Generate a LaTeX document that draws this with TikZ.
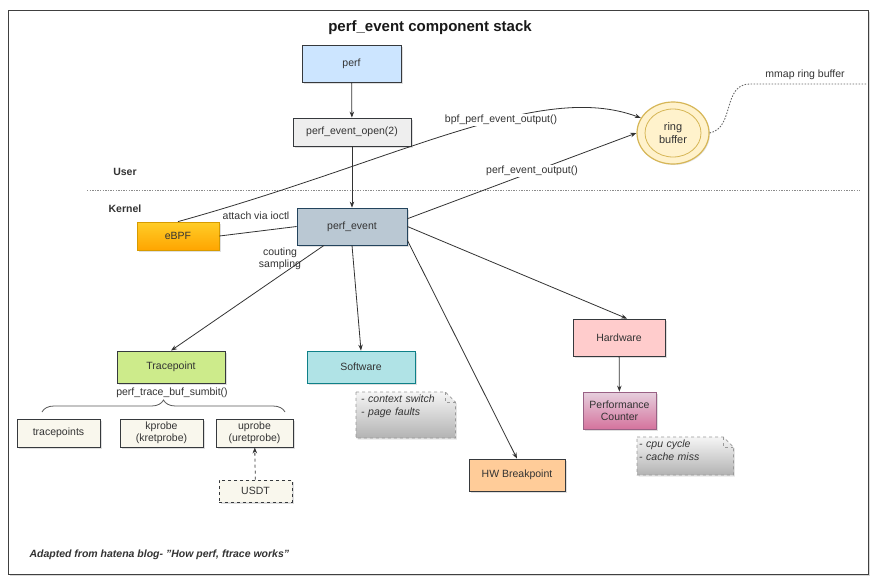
\documentclass[tikz,border=0pt]{standalone}
\usepackage{fontspec}
\setmainfont{Liberation Sans}
\usetikzlibrary{arrows.meta,shadows,decorations.pathreplacing,shapes.geometric,calc}
\pgfdeclarelayer{framelayer}
\pgfdeclarelayer{notelayer}
\pgfsetlayers{framelayer,notelayer,main}
\definecolor{txt}{HTML}{333333}
\definecolor{linec}{HTML}{333333}
\definecolor{boxstroke}{HTML}{36393D}
\definecolor{perfblue}{HTML}{CCE5FF}
\definecolor{peogray}{HTML}{EEEEEE}
\definecolor{pefill}{HTML}{BAC8D3}
\definecolor{pestroke}{HTML}{23445D}
\definecolor{ebpftop}{HTML}{FFCD28}
\definecolor{ebpfbot}{HTML}{FFA500}
\definecolor{ebpfstroke}{HTML}{D79B00}
\definecolor{tpfill}{HTML}{CDEB8B}
\definecolor{swfill}{HTML}{B0E3E6}
\definecolor{swstroke}{HTML}{0E8088}
\definecolor{hwfill}{HTML}{FFCCCC}
\definecolor{hwbfill}{HTML}{FFCC99}
\definecolor{pctop}{HTML}{E6D0DE}
\definecolor{pcbot}{HTML}{D5739D}
\definecolor{pcstroke}{HTML}{996185}
\definecolor{smallfill}{HTML}{F9F7ED}
\definecolor{ringfill}{HTML}{FFF2CC}
\definecolor{ringstroke}{HTML}{D6B656}
\definecolor{notetop}{HTML}{F5F5F5}
\definecolor{notebot}{HTML}{B3B3B3}
\definecolor{notestroke}{HTML}{999999}
\begin{document}
\begin{tikzpicture}[x=1pt,y=-1pt,
  every node/.style={font=\fontsize{10.5}{12.5}\selectfont, text=txt},
  box/.style={rectangle, draw=#1, line width=0.8pt, inner sep=0pt, align=center,
    drop shadow={opacity=0.25, shadow xshift=1.5pt, shadow yshift=-1.5pt}},
  box/.default=boxstroke,
  arr/.style={draw=linec, line width=0.8pt, -{Stealth[length=6pt,width=4.5pt]}},
  conn/.style={draw=linec, line width=0.8pt},
  lbl/.style={inner sep=1pt},
  bold/.style={font=\bfseries\fontsize{10.5}{12.5}\selectfont},
  notetext/.style={anchor=north west, align=left, inner ysep=3pt,
    font=\itshape\fontsize{10.5}{12.5}\selectfont},
  noteshape/.style={draw=notestroke, dashed, line width=0.7pt, top color=notetop, bottom color=notebot,
    drop shadow={opacity=0.2, shadow xshift=1.5pt, shadow yshift=-1.5pt}},
  ]
\useasboundingbox (0,0) rectangle (882,581);

% frame
\begin{pgfonlayer}{framelayer}
\draw[fill=white, draw=black!75, line width=1pt,
  drop shadow={opacity=0.3, shadow xshift=2pt, shadow yshift=-2pt}] (8,10) rectangle (868,574);
\end{pgfonlayer}

% title
\node[font=\bfseries\fontsize{15}{18}\selectfont, text=black!90] (title) at (430,28) {perf\_event component stack};

% user/kernel
\node[bold] (user) at (125,172) {User};
\node[bold] (kernel) at (125,209) {Kernel};
\coordinate (sepL) at (87,190);
\coordinate (sepR) at (860,190);
\draw[draw=black!45, line width=1pt, dash pattern=on 1.3pt off 1.3pt] (sepL) -- (sepR);

% nodes
\node[box, fill=perfblue, minimum width=99, minimum height=37] (perf) at (351.5,63.5) {perf};
\node[box, fill=peogray, minimum width=118, minimum height=28] (peo) at (352,132) {perf\_event\_open(2)};
\node[box=pestroke, fill=pefill, minimum width=110, minimum height=37] (pe) at (352,226.5) {perf\_event};
\node[box=ebpfstroke, top color=ebpftop, bottom color=ebpfbot, minimum width=82, minimum height=28] (ebpf) at (178,236) {eBPF};
\node[box, fill=tpfill, minimum width=108, minimum height=32] (tp) at (171,367) {Tracepoint};
\node[box=swstroke, fill=swfill, minimum width=108, minimum height=32] (sw) at (361,367) {Software};
\node[box, fill=hwbfill, minimum width=96, minimum height=32] (hwb) at (517,475) {HW Breakpoint};
\node[box, fill=hwfill, minimum width=92, minimum height=37] (hw) at (619,337.5) {Hardware};
\node[box=pcstroke, top color=pctop, bottom color=pcbot, minimum width=73, minimum height=37] (pc) at (619.5,410.5) {Performance\\Counter};

\node[box, fill=smallfill, minimum width=83, minimum height=28] (tps) at (58.5,433) {tracepoints};
\node[box, fill=smallfill, minimum width=83, minimum height=28] (kp) at (161.5,433) {kprobe\\(kretprobe)};
\node[box, fill=smallfill, minimum width=77, minimum height=28] (up) at (254.5,433) {uprobe\\(uretprobe)};
\node[box, dashed, fill=smallfill, minimum width=73, minimum height=22] (usdt) at (255.5,491) {USDT};

% ring buffer
\node[ellipse, draw=ringstroke, line width=1.2pt, fill=ringfill, minimum width=72, minimum height=62,
  inner sep=0pt, align=center, font=\fontsize{11}{13}\selectfont,
  drop shadow={opacity=0.2, shadow xshift=1pt, shadow yshift=-1pt}] (ring) at (673,133) {ring\\buffer};
\draw[draw=ringstroke, line width=0.8pt] (ring.center) ellipse [x radius=28, y radius=24];

% notes
\node[notetext, text width=89pt, inner xsep=5pt] (n1) at (356,392) {- context switch\\- page faults};
\node[notetext, text width=92pt, inner xsep=2pt] (n2) at (637,437) {- cpu cycle\\- cache miss};
\begin{pgfonlayer}{notelayer}
\path[noteshape] (n1.north west) -- ([xshift=-10pt]n1.north east) -- ([yshift=-10pt]n1.north east)
  -- ($(n1.north east)+(0,46)$) -- ($(n1.north west)+(0,46)$) -- cycle;
\draw[draw=notestroke, dashed, line width=0.7pt] ([xshift=-10pt]n1.north east) -- ([xshift=-10pt,yshift=-10pt]n1.north east) -- ([yshift=-10pt]n1.north east);
\path[noteshape] (n2.north west) -- ([xshift=-10pt]n2.north east) -- ([yshift=-10pt]n2.north east)
  -- ($(n2.north east)+(0,38)$) -- ($(n2.north west)+(0,38)$) -- cycle;
\draw[draw=notestroke, dashed, line width=0.7pt] ([xshift=-10pt]n2.north east) -- ([xshift=-10pt,yshift=-10pt]n2.north east) -- ([yshift=-10pt]n2.north east);
\end{pgfonlayer}

% connectors
\draw[arr] (perf) -- (peo);
\draw[arr] (peo) -- (pe);
\draw[conn] (ebpf.east) -- (pe.west);
\node[lbl] (attach) at (256,216) {attach via ioctl};

\draw[arr] (ebpf.north) .. controls (400,160) and (540,80) .. (ring.155);
\node[lbl, fill=white] (bpflbl) at (501,120) {bpf\_perf\_event\_output()};

\draw[arr] (pe.8) -- (ring.west);
\node[lbl, fill=white] (peolbl) at (532,171) {perf\_event\_output()};

\draw[arr] (pe.214) -- (tp.north);
\node[lbl, align=center, font=\fontsize{10.5}{12}\selectfont] (cs) at (280,259) {couting\\sampling};
\draw[arr] (pe.south) -- (sw.north);
\draw[arr] (pe.-14) -- (hwb.north);
\draw[arr] (pe.east) -- ([xshift=8pt]hw.north);
\draw[arr] (hw) -- (pc);
\draw[arr, dashed] (usdt) -- (up);

% mmap
\coordinate (mmapend) at (866,84);
\draw[draw=black!60, line width=0.9pt, dash pattern=on 1.5pt off 1.5pt] (ring.east) .. controls (735,128) and (722,84) .. (750,84) -- (mmapend);
\node[lbl] (mmap) at (805,75) {mmap ring buffer};

% trace buf
\node[lbl] (ptbs) at (172,393) {perf\_trace\_buf\_sumbit()};
\coordinate (brL) at (42,412);
\coordinate (brR) at (285,412);
\draw[draw=black!65, line width=0.8pt, decorate, decoration={brace, amplitude=12pt}] (brL) -- (brR);

% footer
\node[anchor=west, font=\bfseries\itshape\fontsize{10.5}{12.5}\selectfont] (footer) at (26,555) {Adapted from hatena blog- \symbol{34}How perf, ftrace works\symbol{34}};
\end{tikzpicture}
\end{document}
